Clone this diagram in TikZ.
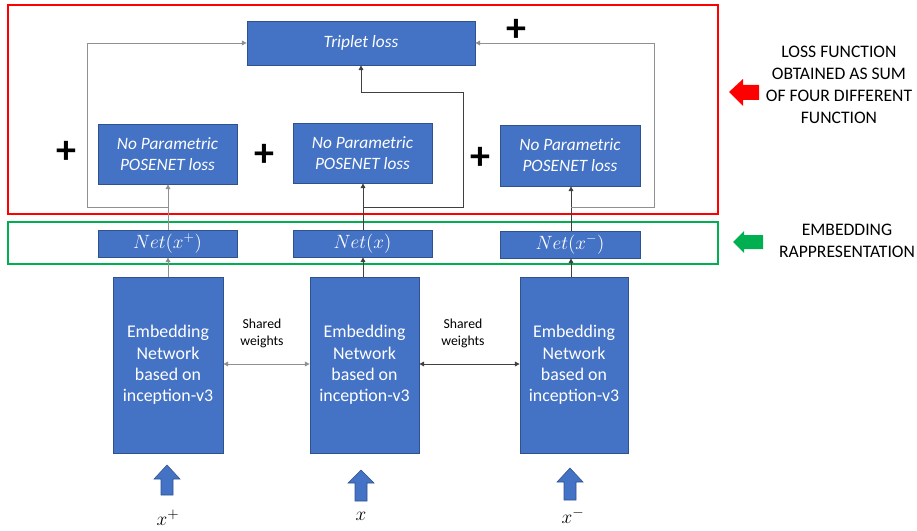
\documentclass[tikz,border=0pt]{standalone}
\usepackage[no-math]{fontspec}
\setmainfont{Carlito}
\setsansfont{Carlito}
\usetikzlibrary{fit,arrows.meta}
\definecolor{boxblue}{HTML}{4472C4}
\definecolor{boxedge}{HTML}{2F528F}
\definecolor{lred}{HTML}{FF0000}
\definecolor{lgreen}{HTML}{00B050}
\definecolor{lgray}{HTML}{909090}
\definecolor{dgray}{HTML}{404040}
\tikzset{
  bluebox/.style={draw=boxedge, line width=0.6pt, fill=boxblue, inner sep=0pt},
  boxtext/.style={text=white, align=center, inner sep=0pt},
  conn/.style={draw=lgray, line width=0.7pt},
  dconn/.style={draw=dgray, line width=0.7pt},
  tip/.style={-{Triangle[length=3.5pt,width=3.5pt]}},
  plussign/.style={font=\fontsize{30}{30}\selectfont\bfseries, inner sep=0pt},
  sidetext/.style={font=\fontsize{13.2}{16.5}\selectfont, align=center, text=black},
  bigup/.style={fill=boxblue, draw=boxedge, line width=0.4pt},
  pnfont/.style={font=\fontsize{13}{15.75}\selectfont\itshape},
  embfont/.style={font=\fontsize{13.4}{16.1}\selectfont},
  netfont/.style={font=\fontsize{14}{14}\selectfont},
}
\begin{document}
\begin{tikzpicture}[x=0.75pt,y=-0.75pt]
\useasboundingbox (0,0) rectangle (917,531);
% frames
\draw[lred, line width=2.2pt] (8,5) rectangle (718,214);
\draw[lgreen, line width=2.2pt] (8,222) rectangle (718,264);
% triplet
\node[bluebox, fit={(247,21)(475,65)}] (trip) {};
\node[boxtext, pnfont] (tript) at (trip.center) {Triplet loss};
% posenet
\node[bluebox, fit={(98,124)(237,184)}] (pn1) {};
\node[bluebox, fit={(293,123)(432,183)}] (pn2) {};
\node[bluebox, fit={(500,125)(640,186)}] (pn3) {};
\node[boxtext, pnfont] (pn1t) at (pn1.center) {No Parametric\\POSENET loss};
\node[boxtext, pnfont] (pn2t) at (pn2.center) {No Parametric\\POSENET loss};
\node[boxtext, pnfont] (pn3t) at (pn3.center) {No Parametric\\POSENET loss};
% net
\node[bluebox, fit={(98,230)(237,257)}] (net1) {};
\node[bluebox, fit={(293,230)(432,257)}] (net2) {};
\node[bluebox, fit={(500,231)(640,258)}] (net3) {};
\node[boxtext, netfont] (net1t) at (net1.center) {$Net(x^{+})$};
\node[boxtext, netfont] (net2t) at (net2.center) {$Net(x)$};
\node[boxtext, netfont] (net3t) at (net3.center) {$Net(x^{-})$};
% embedding
\node[bluebox, fit={(113,277)(223,453)}] (emb1) {};
\node[bluebox, fit={(310,277)(419,453)}] (emb2) {};
\node[bluebox, fit={(520,277)(628,453)}] (emb3) {};
\node[boxtext, embfont] (emb1t) at (emb1.center) {Embedding\\Network\\based on\\inception-v3};
\node[boxtext, embfont] (emb2t) at (emb2.center) {Embedding\\Network\\based on\\inception-v3};
\node[boxtext, embfont] (emb3t) at (emb3.center) {Embedding\\Network\\based on\\inception-v3};
% coordinates
\coordinate (c1) at (168,207);
\coordinate (c2) at (363,207);
\coordinate (c3) at (571,207);
\coordinate (lp) at (87,43);
\coordinate (rp) at (654,43);
\coordinate (mt) at (361,92);
\coordinate (mr) at (463,92);
% connectors emb -> net
\draw[conn, tip] (emb1.north -| c1) -- (net1.south -| c1);
\draw[dconn, tip] (emb2.north -| c2) -- (net2.south -| c2);
\draw[dconn, tip] (emb3.north -| c3) -- (net3.south -| c3);
% net -> posenet
\draw[conn, tip] (net1.north -| c1) -- (pn1.south -| c1);
\draw[dconn, tip] (net2.north -| c2) -- (pn2.south -| c2);
\draw[dconn, tip] (net3.north -| c3) -- (pn3.south -| c3);
% loops to triplet
\draw[conn, tip] (c1) -| (lp) -- (trip.west |- lp);
\draw[conn, tip] (c3) -| (rp) -- (trip.east |- rp);
\draw[dconn, tip] (c2) -| (mr) -- (mt) -- (trip.south -| mt);
% shared weights
\draw[conn, {Triangle[length=3.5pt,width=3.5pt]}-{Triangle[length=3.5pt,width=3.5pt]}] (emb1.east |- 0,364) -- (emb2.west |- 0,364);
\draw[dconn, {Triangle[length=3.5pt,width=3.5pt]}-{Triangle[length=3.5pt,width=3.5pt]}] (emb2.east |- 0,364) -- (emb3.west |- 0,364);
\node[font=\fontsize{10.3}{12.8}\selectfont, align=center] (sw1) at (262,333) {Shared\\weights};
\node[font=\fontsize{10.3}{12.8}\selectfont, align=center] (sw2) at (463,333) {Shared\\weights};
% plus signs
\node[plussign] (p1) at (66,152) {+};
\node[plussign] (p2) at (264,155) {+};
\node[plussign] (p3) at (480,158) {+};
\node[plussign] (p4) at (516,30) {+};
% input arrows
\draw[bigup] (161,495) -- (161,479) -- (154,479) -- (167,465) -- (180,479) -- (173,479) -- (173,495) -- cycle;
\draw[bigup] (355,501) -- (355,483) -- (348,483) -- (361,470) -- (374,483) -- (367,483) -- (367,501) -- cycle;
\draw[bigup] (564,500) -- (564,482) -- (557,482) -- (570,468) -- (583,482) -- (576,482) -- (576,500) -- cycle;
\node[font=\fontsize{15}{15}\selectfont] (in1) at (168,518) {$x^{+}$};
\node[font=\fontsize{15}{15}\selectfont] (in2) at (361,516) {$x$};
\node[font=\fontsize{15}{15}\selectfont] (in3) at (573,516) {$x^{-}$};
% side arrows and text
\fill[lred] (729,92) -- (743,79) -- (743,85) -- (759,85) -- (759,100) -- (743,100) -- (743,106) -- cycle;
\fill[lgreen] (733,242) -- (744,231) -- (744,235) -- (763,235) -- (763,249) -- (744,249) -- (744,253) -- cycle;
\node[sidetext] (t1) at (839,84.5) {LOSS FUNCTION\\OBTAINED AS SUM\\OF FOUR DIFFERENT\\FUNCTION};
\node[sidetext] (t2) at (847,241) {EMBEDDING\\RAPPRESENTATION};
\end{tikzpicture}
\end{document}
